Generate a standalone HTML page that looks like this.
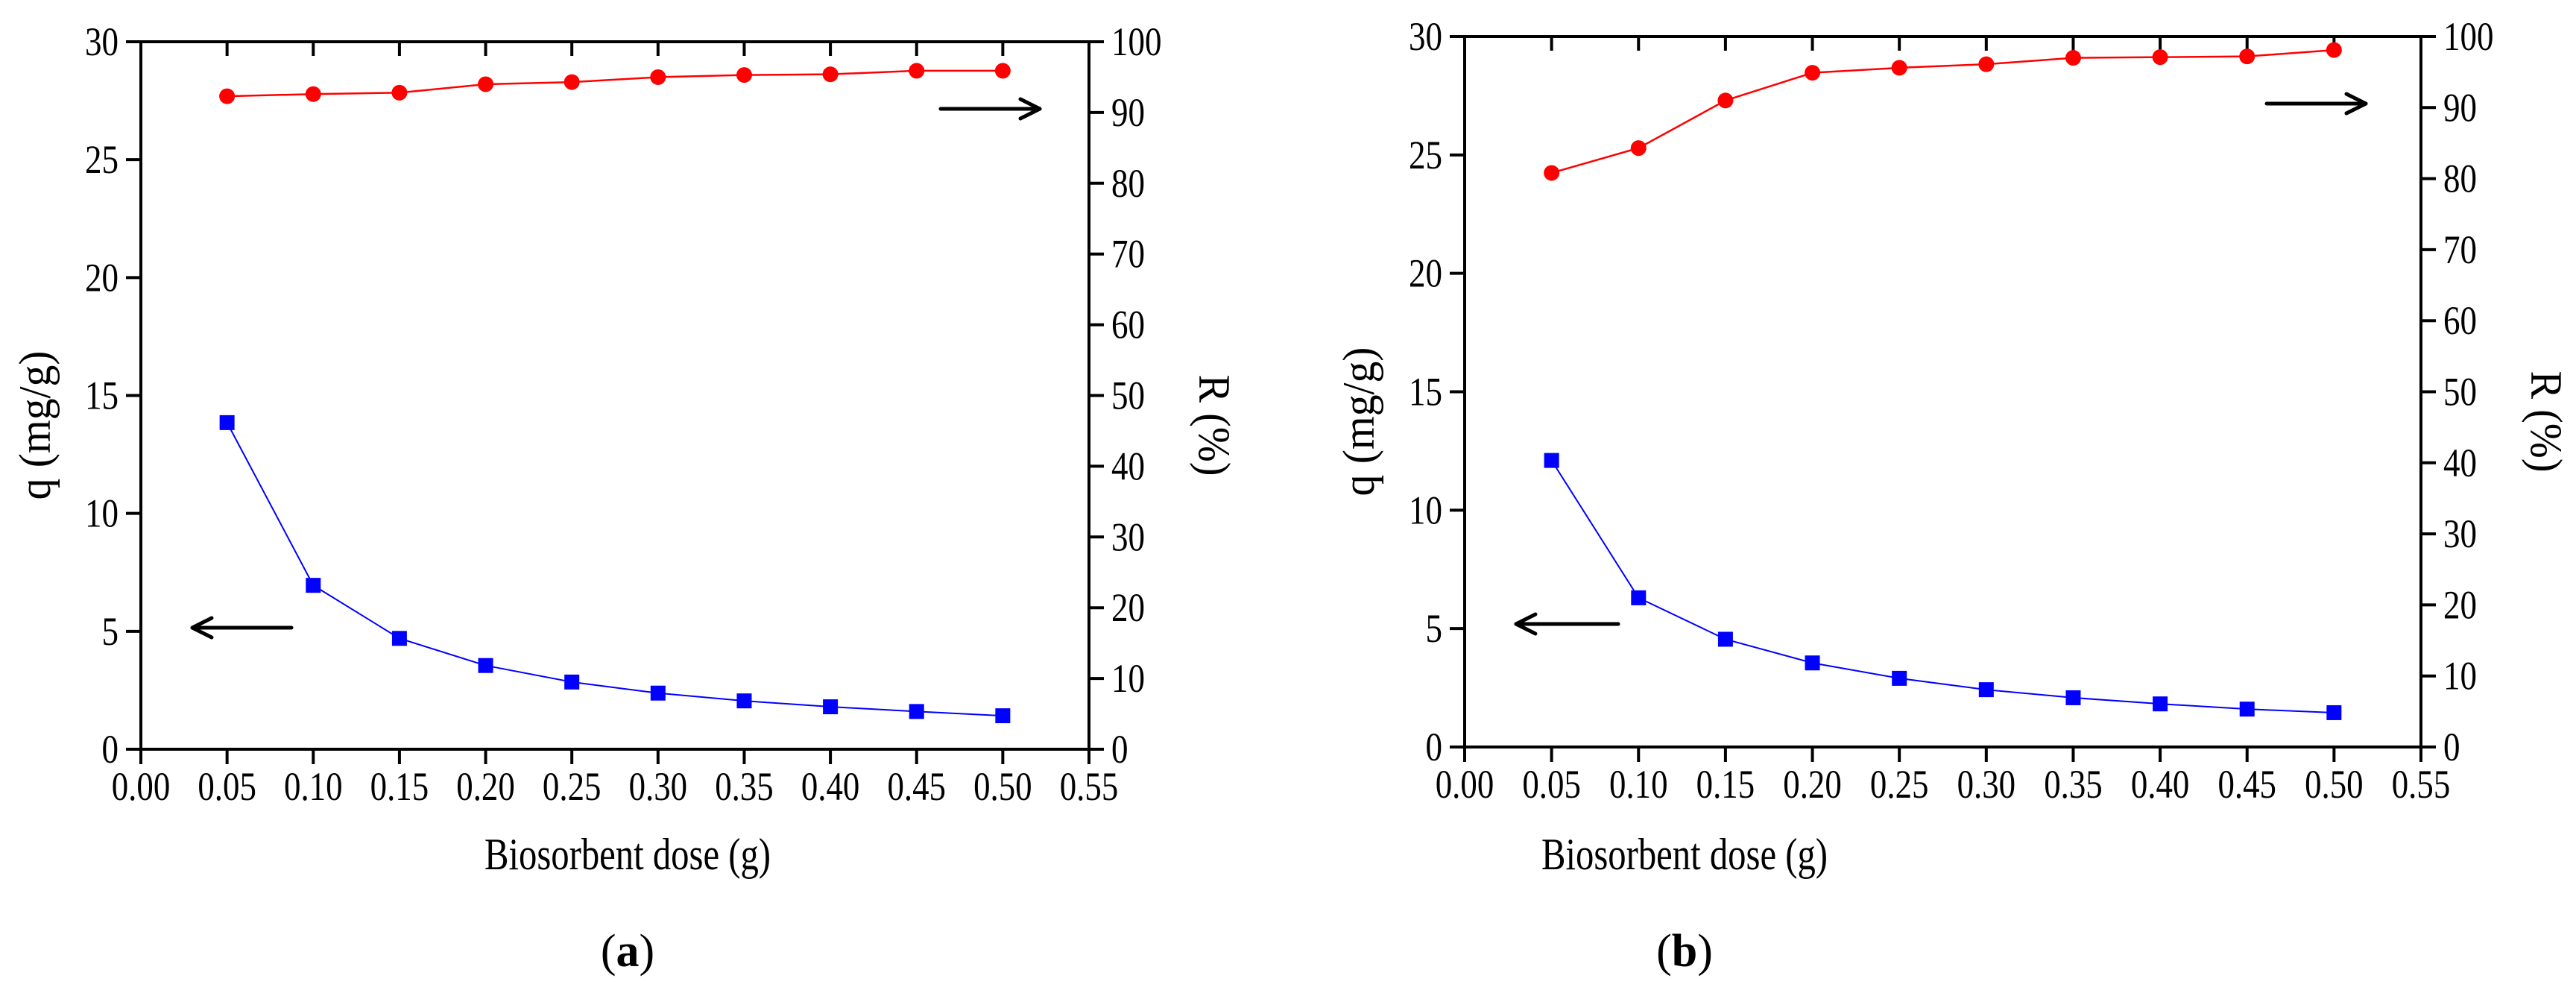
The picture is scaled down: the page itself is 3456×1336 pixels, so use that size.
<!DOCTYPE html>
<html><head><meta charset="utf-8"><style>
html,body{margin:0;padding:0;background:#fff;}
svg{display:block;}
svg text{font-family:"Liberation Serif","Times New Roman",serif;}
</style></head><body>
<svg id="fig" width="3456" height="1336" viewBox="0 0 3456 1336" xmlns="http://www.w3.org/2000/svg" font-family="Liberation Serif, serif"></svg>
<script>
const doses = [0.05,0.10,0.15,0.20,0.25,0.30,0.35,0.40,0.45,0.50];
const qA = [13.85,6.95,4.7,3.55,2.85,2.38,2.05,1.8,1.6,1.42];
const rA = [92.3,92.6,92.8,94.0,94.3,95.0,95.3,95.4,95.9,95.9];
const qB = [12.1,6.3,4.55,3.55,2.9,2.42,2.08,1.82,1.6,1.45];
const rB = [80.8,84.3,91.0,94.9,95.6,96.1,97.0,97.1,97.2,98.1];
const xTicks = ["0.00","0.05","0.10","0.15","0.20","0.25","0.30","0.35","0.40","0.45","0.50","0.55"];
const qTicks = [0,5,10,15,20,25,30];
const rTicks = [0,10,20,30,40,50,60,70,80,90,100];

const NS="http://www.w3.org/2000/svg";
const svg=document.getElementById('fig');
const FF='Liberation Serif, serif';
function mk(tag,attrs,parent){const e=document.createElementNS(NS,tag);for(const k in attrs)e.setAttribute(k,attrs[k]);if(tag==='text')e.setAttribute('font-family',FF);(parent||svg).appendChild(e);return e;}
function tlen(s){let w=0;for(const ch of String(s))w+=(ch==='.'?11:22.5);return w;}
function fit(el,w){el.setAttribute('textLength',w);el.setAttribute('lengthAdjust','spacingAndGlyphs');}

function panel(cfg){
  const g=mk('g',{});
  
  
  const L=cfg.L,R=cfg.R,T=cfg.T,B=cfg.B;
  const sx=v=>L+(v/0.55)*(R-L);
  const sq=v=>B-(v/30)*(B-T);
  const sr=v=>B-(v/100)*(B-T);
  const frame=mk('path',{d:`M${L} ${T}H${R}V${B}H${L}Z`,fill:'none',stroke:'#000','stroke-width':4},g);
  
  
  xTicks.forEach(t=>{
    const x=sx(parseFloat(t));
    mk('line',{x1:x,y1:B,x2:x,y2:B+20,stroke:'#000','stroke-width':4},g);
    mk('line',{x1:x,y1:T,x2:x,y2:T+19,stroke:'#000','stroke-width':4},g);
    const tx=mk('text',{x:x,y:B+68,'font-size':54,'text-anchor':'middle'},g);
    tx.textContent=t;
    fit(tx,tlen(t));
    
    
  });
  qTicks.forEach(t=>{
    const y=sq(t);
    mk('line',{x1:L-20,y1:y,x2:L,y2:y,stroke:'#000','stroke-width':4},g);
    const tx=mk('text',{x:L-30,y:y+18,'font-size':54,'text-anchor':'end'},g);
    tx.textContent=t;
    fit(tx,tlen(t));
    
    
  });
  rTicks.forEach(t=>{
    const y=sr(t);
    mk('line',{x1:R,y1:y,x2:R+20,y2:y,stroke:'#000','stroke-width':4},g);
    const tx=mk('text',{x:R+30,y:y+18,'font-size':54,'text-anchor':'start'},g);
    tx.textContent=t;
    fit(tx,tlen(t));
    
    
  });
  const lq=mk('polyline',{points:doses.map((d,i)=>sx(d)+','+sq(cfg.q[i])).join(' '),fill:'none',stroke:'#0000ff','stroke-width':2},g);
  
  
  const lr=mk('polyline',{points:doses.map((d,i)=>sx(d)+','+sr(cfg.r[i])).join(' '),fill:'none',stroke:'#ff0000','stroke-width':2.5},g);
  
  
  doses.forEach((d,i)=>{
    const s=mk('rect',{x:sx(d)-10,y:sq(cfg.q[i])-10,width:20,height:20,fill:'#0000ff'},g);
    
    
    const c=mk('circle',{cx:sx(d),cy:sr(cfg.r[i]),r:10.5,fill:'#ff0000'},g);
    
    
  });
  function arrow(x1,y,x2,name){
    const a=mk('g',{},g);
    
    
    mk('line',{x1:x1,y1:y,x2:x2,y2:y,stroke:'#000','stroke-width':5,'stroke-linecap':'round'},a);
    const dir=x2>x1?-1:1;
    mk('polyline',{points:`${x2+dir*26},${y-13} ${x2},${y} ${x2+dir*26},${y+13}`,fill:'none',stroke:'#000','stroke-width':5,'stroke-linecap':'round','stroke-linejoin':'round'},a);
  }
  arrow(cfg.la[0],cfg.la[1],cfg.la[2],'left-axis-arrow');
  arrow(cfg.ra[0],cfg.ra[1],cfg.ra[2],'right-axis-arrow');
  const qy=(T+B)/2+40;
  const qt=mk('text',{x:0,y:0,'font-size':60,'text-anchor':'middle',transform:`translate(${L-122},${qy}) rotate(-90)`},g);
  qt.textContent='q (mg/g)';
  fit(qt,200);
  
  
  const rt=mk('text',{x:0,y:0,'font-size':60,'text-anchor':'middle',transform:`translate(${R+148},${qy}) rotate(90)`},g);
  rt.textContent='R (%)';
  fit(rt,136);
  
  
  const xt=mk('text',{x:cfg.cx,y:1166,'font-size':60,'text-anchor':'middle'},g);
  xt.textContent='Biosorbent dose (g)';
  fit(xt,384);
  
  
  const lab=mk('text',{x:cfg.cx,y:1296,'font-size':62,'text-anchor':'middle'},g);
  lab.innerHTML='(<tspan font-weight="bold">'+cfg.label+'</tspan>)';
  
  
}
panel({name:'panel-a',L:189,R:1461,T:56,B:1005,q:qA,r:rA,la:[391,842,258],ra:[1262,146,1395],cx:842,label:'a'});
panel({name:'panel-b',L:1965,R:3248,T:49,B:1002,q:qB,r:rB,la:[2171,837,2034],ra:[3041,139,3174],cx:2260,label:'b'});
</script>
</body></html>
